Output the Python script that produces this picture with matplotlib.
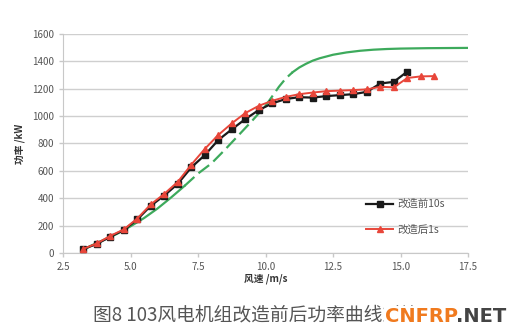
import numpy as np
import matplotlib
matplotlib.use("Agg")
from matplotlib import pyplot as plt

plt.rcParams['font.family'] = ['Noto Sans CJK SC', 'DejaVu Sans']

# ---------- Data
wind_before = [3.25, 3.75, 4.25, 4.75, 5.25, 5.75, 6.25, 6.75, 7.25, 7.75, 8.25, 8.75, 9.25,
               9.75, 10.25, 10.75, 11.25, 11.75, 12.25, 12.75, 13.25, 13.75, 14.25, 14.75, 15.25]
power_before = [29, 66, 119, 168, 245, 345, 420, 505, 625, 715, 825, 903, 978,
                1044, 1093, 1125, 1138, 1135, 1146, 1153, 1160, 1177, 1238, 1250, 1325]

wind_after = [3.25, 3.75, 4.25, 4.75, 5.25, 5.75, 6.25, 6.75, 7.25, 7.75, 8.25, 8.75, 9.25, 9.75,
              10.25, 10.75, 11.25, 11.75, 12.25, 12.75, 13.25, 13.75, 14.25, 14.75, 15.25, 15.75, 16.25]
power_after = [30, 70, 125, 172, 252, 355, 432, 520, 645, 760, 862, 947, 1022, 1075,
               1112, 1140, 1160, 1172, 1182, 1186, 1190, 1195, 1214, 1210, 1278, 1290, 1292]

# guaranteed power curve (green)
wind_ref = [3.3, 3.5, 4.0, 4.5, 5.0, 5.5, 6.0, 6.5, 7.0, 7.5, 8.0, 8.5, 9.0, 9.5, 10.0, 10.25,
            10.5, 10.75, 11.0, 11.25, 11.5, 11.75, 12.0, 12.5, 13.0, 13.5, 14.0, 14.5, 15.0,
            16.0, 17.5]
power_ref = [25, 50, 95, 140, 195, 255, 325, 405, 490, 580, 655, 755, 860, 965, 1075, 1145,
             1215, 1275, 1320, 1355, 1382, 1405, 1422, 1448, 1465, 1477, 1485, 1490, 1493,
             1496, 1498]

xticks = [2.5, 5.0, 7.5, 10.0, 12.5, 15.0, 17.5]
yticks = [0, 200, 400, 600, 800, 1000, 1200, 1400, 1600]

fig = plt.figure(figsize=(5.14, 3.36), dpi=100)
ax = fig.add_axes([0.1226, 0.247, 0.788, 0.652])

# green curve: solid at the ends, dashed in the steep part
wr = np.array(wind_ref)
pr = np.array(power_ref)
green = '#3daa5c'
m1 = wr <= 7.0
m2 = (wr >= 7.0) & (wr <= 11.0)
m3 = wr >= 11.0
ax.plot(wr[m1], pr[m1], color=green, lw=1.6, zorder=2)
ax.plot(wr[m2], pr[m2], color=green, lw=1.6, dashes=(6, 2.5), zorder=2)
ax.plot(wr[m3], pr[m3], color=green, lw=1.6, zorder=2)

ax.plot(wind_before, power_before, color='#1a1a1a', lw=1.6, marker='s', ms=4.5,
        label='改造前10s', zorder=3)
ax.plot(wind_after, power_after, color='#e8463a', lw=1.4, marker='^', ms=5,
        label='改造后1s', zorder=4)

ax.set_xlim(2.5, 17.5)
ax.set_ylim(0, 1600)
ax.set_xticks(xticks)
ax.set_xticklabels(['{:.1f}'.format(v) for v in xticks])
ax.set_yticks(yticks)
ax.grid(axis='y', color='#cfcfcf', lw=1)
ax.set_axisbelow(True)
for s in ['top', 'right']:
    ax.spines[s].set_visible(False)
for s in ['left', 'bottom']:
    ax.spines[s].set_color('#c8c8c8')
ax.tick_params(colors='#c8c8c8', labelcolor='#555555', labelsize=7, length=3, width=1)

ax.set_xlabel('风速 /m/s', fontsize=7, fontweight='bold', color='#333333', labelpad=1)
ax.set_ylabel('功率 /kW', fontsize=7, fontweight='bold', color='#333333', labelpad=5)

leg = ax.legend(loc='upper left', bbox_to_anchor=(366 / 514, 1 - 199 / 336),
                bbox_transform=fig.transFigure, frameon=False, fontsize=7.5,
                handlelength=2.6, handletextpad=0.4, labelspacing=1.5,
                borderpad=0, borderaxespad=0)
for t in leg.get_texts():
    t.set_color('#555555')

fig.text(0.18, 1 - 315 / 336, '图8 103风电机组改造前后功率曲线对比', fontsize=13.5,
         color='#555555', va='center', ha='left')
fig.text(385 / 514, 1 - 316 / 336, 'CNFRP', fontsize=14, fontweight='bold',
         color='#f07a1e', va='center', ha='left', family='DejaVu Sans',
         bbox=dict(facecolor='white', edgecolor='none', pad=0.5))
fig.text(456 / 514, 1 - 316 / 336, '.NET', fontsize=14, fontweight='bold',
         color='#444444', va='center', ha='left', family='DejaVu Sans')

fig.savefig('out.png', dpi=100)
